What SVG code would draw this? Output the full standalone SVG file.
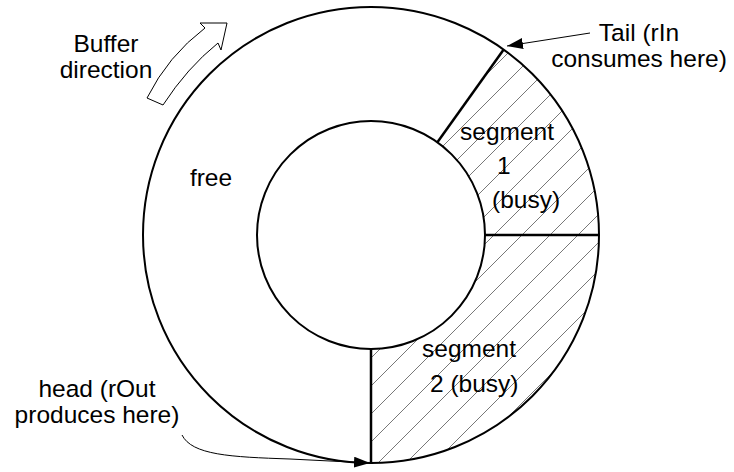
<svg xmlns="http://www.w3.org/2000/svg" width="734" height="472" viewBox="0 0 734 472">
<style>
text{font-family:"Liberation Sans",Arial,sans-serif;font-size:24.5px;fill:#000}
.ring{fill:none;stroke:#000;stroke-width:2}
.div{stroke:#000;stroke-width:2.5;fill:none}
.conn{stroke:#000;stroke-width:1;fill:none}
</style>
<defs>
<pattern id="hatch" patternUnits="userSpaceOnUse" width="28" height="28" patternTransform="translate(1,0)">
<path d="M-7,7 L7,-7 M0,28 L28,0 M21,35 L35,21" stroke="#555" stroke-width="0.8"/>
</pattern>
<marker id="ah" viewBox="0 0 16 11" refX="16" refY="5.5" markerWidth="16" markerHeight="11" markerUnits="userSpaceOnUse" orient="auto">
<path d="M0,0 L16,5.5 L0,11 Z" fill="#000"/>
</marker>
</defs>
<g id="ring">
<path d="M503.7,49.6 A228,228 0 0 1 371,463 L371,349 A114,114 0 0 0 437.4,142.3 Z" fill="url(#hatch)"/>
<circle class="ring" cx="371" cy="235" r="228"/>
<circle class="ring" cx="371" cy="235" r="114" fill="#fff"/>
<line class="div" x1="437.4" y1="142.3" x2="503.7" y2="49.6"/>
<line class="div" x1="485" y1="235" x2="599" y2="235"/>
<line class="div" x1="371" y1="349" x2="371" y2="463"/>
</g>
<g id="free"><text x="211" y="186" text-anchor="middle">free</text></g>
<g id="segment1">
<text x="460" y="140">segment</text>
<text x="497" y="174">1</text>
<text x="492" y="208">(busy)</text>
</g>
<g id="segment2">
<text x="422" y="357">segment</text>
<text x="430" y="392">2 (busy)</text>
</g>
<g id="direction">
<path d="M147,98 Q168,56 205,28 L200,23 L227,23 L221,50 L218,43 Q187,68 163,105 Z" fill="#fff" stroke="#000" stroke-width="1"/>
<text x="106" y="52" text-anchor="middle">Buffer</text>
<text x="106" y="78" text-anchor="middle">direction</text>
</g>
<g id="tail-label">
<text x="639" y="41" text-anchor="middle">Tail (rIn</text>
<text x="639" y="67" text-anchor="middle">consumes here)</text>
</g>
<g id="head-label">
<text x="97" y="397" text-anchor="middle">head (rOut</text>
<text x="97" y="423" text-anchor="middle">produces here)</text>
</g>
<g id="connectors">
<path class="conn" d="M590,33 L507,46" marker-end="url(#ah)"/>
<path class="conn" d="M182,435 C192,455 230,457 290,459 L370,463" marker-end="url(#ah)"/>
</g>
</svg>
